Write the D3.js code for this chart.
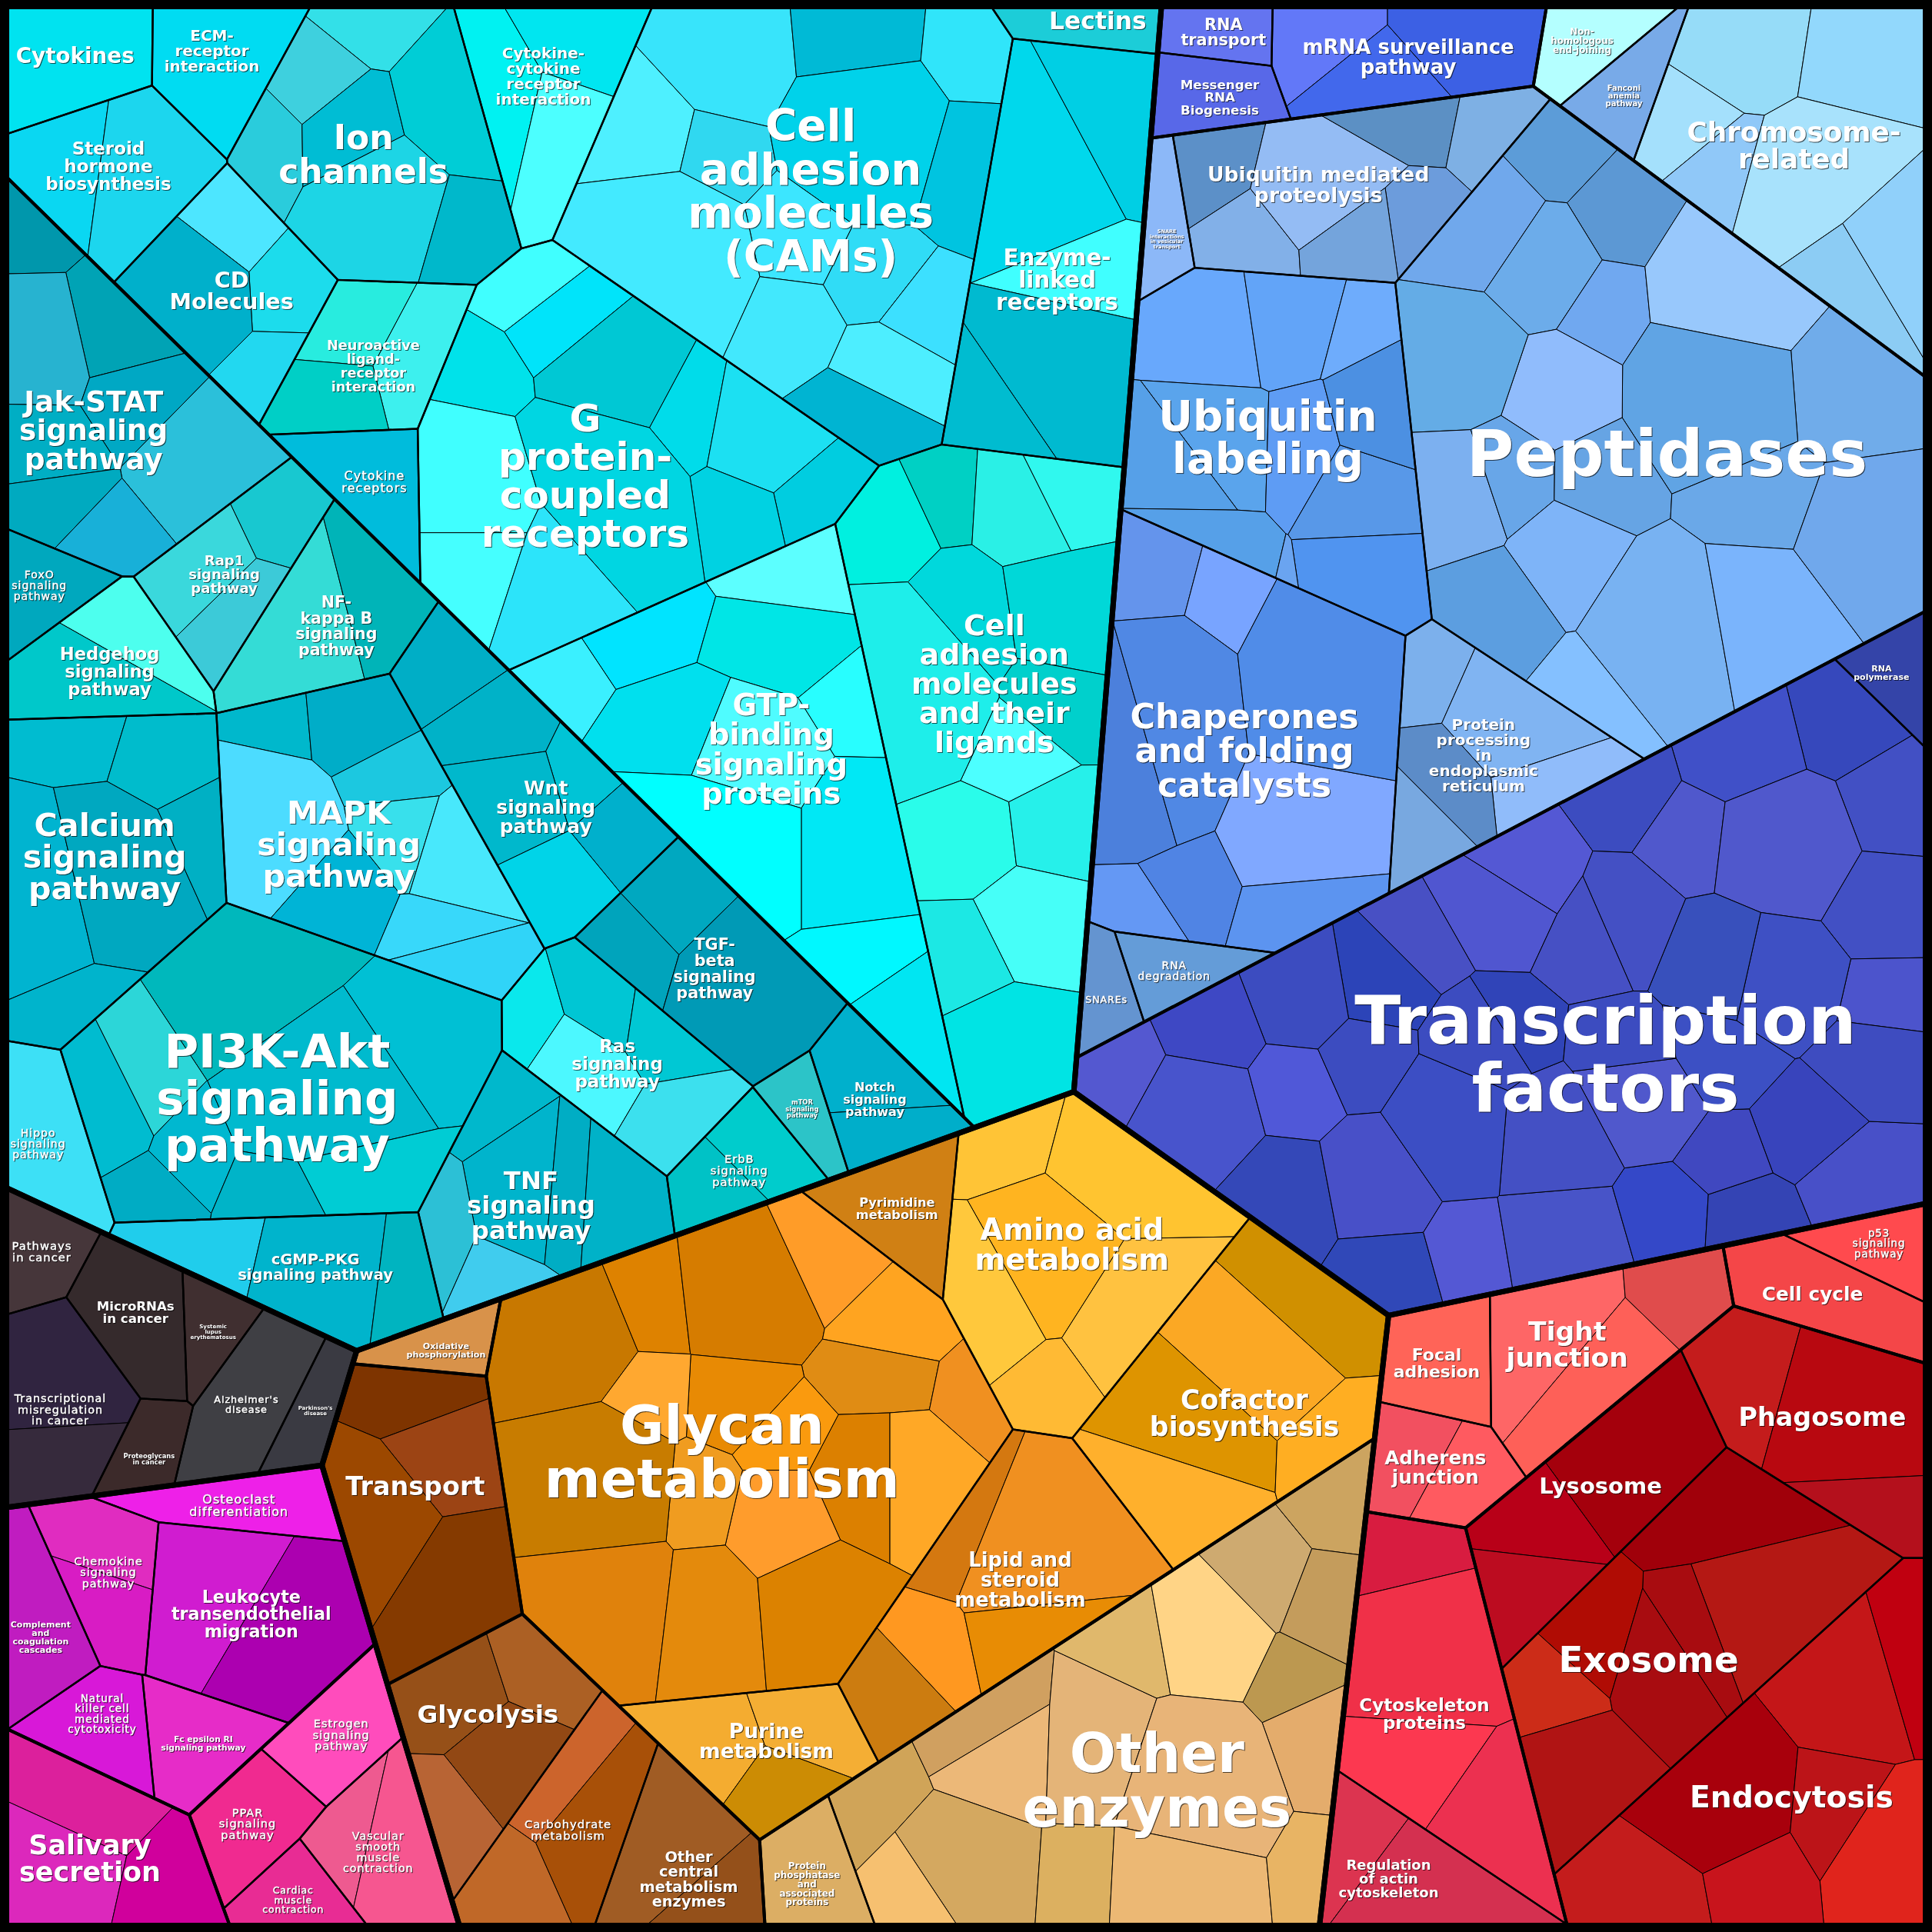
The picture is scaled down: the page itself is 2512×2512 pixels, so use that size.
<html>
  <head>
    <style>
      body { margin: 0; background: #000; }
      text { font-family: 'DejaVu Sans'; font-weight: bold; fill: #fff; text-anchor: middle; }
      text.thin { font-weight: normal; letter-spacing: 0.07em; stroke: #fff; stroke-width: 0.45px; }
    </style>
  </head>
  <body>
    <script src="https://d3js.org/d3.v7.min.js"></script>
    <svg id="map" width="2512" height="2512"></svg>
    <script>
      const topSites = '511,672,147789 329,1063,-78644 357,1273,-82996 692,1173,86597 1125,1222,-89840 1019,713,23705';

      // one string per top level group
      const midSites = [
        '586,364,7423 258,698,-7155',
        '120,1112,0',
        '159,1367,4378 102,1488,-3964 228,1442,-374',
        '427,1157,-32028 419,1243,-18193 497,1392,-10606 676,1204,52069 787,1374,8152',
        '1450,1102,-30339 1243,1139,-780 1207,1359,617 1387,1313,30503',
        '1116,85,-41685 1369,127,-39619 1160,409,63676 1345,761,11453',
      ];

      // one string per mid level group, read in order
      const pathwaySites = [
        '131,81,-19647 225,82,-9350 155,153,-11855 331,140,8407 236,230,-951 326,279,2956 329,355,-1824 438,110,4739 618,187,26289 787,73,-36593 772,214,-3688 504,352,25265 595,555,13405 733,525,2694',
        '92,343,4241 39,471,-7773 89,539,-6218 188,470,-5306 261,516,-4091 420,624,8671 576,785,409 510,864,384 432,966,3247 593,944,-6005 648,899,-8490 698,883,-8121 301,691,12976 94,702,6515 239,866,18295 57,923,-12888 244,1011,4184',
        '61,1062,-2009 104,1085,1411 74,1107,1199 102,1121,-850 132,1084,-382 223,1150,217 243,1160,347',
        '169,1208,586 59,1329,-3710 137,1294,1712 160,1296,2860 113,1408,-621 123,1407,-665',
        '80,1500,0',
        '233,1445,-399 225,1454,-130 290,1508,510 281,1515,19',
        '358,1092,0',
        '343,1226,0',
        '387,1418,717 467,1475,-688 556,1506,-29',
        '706,1273,-17199 695,1163,15036 747,1095,324 810,1101,2523 882,1159,-5281 791,1229,4597',
        '711,1500,-21204 885,1437,21204',
        '1512,1007,-177 1489,1055,177',
        '1289,1098,3944 1180,1099,-1479 1160,1188,-2466',
        '1180,1415,2360 1131,1488,-2360',
        '1454,1179,-11277 1303,1250,1269 1368,1316,7031 1455,1412,2977',
        '1004,35,-1867 999,77,-1347 1109,37,3214',
        '1297,43,-4971 1317,67,-4814 1462,119,9786',
        '1084,162,-15189 939,186,-29414 1066,401,11702 1333,372,38415 1187,594,1150 986,581,21077 906,788,-15196 961,770,-12838',
        '1473,627,-31637 1343,760,31637',
      ];

      // one row per mid level group, one string per pathway
      const leafSites = [
        ['61,48,0', '177,51,0', '50,134,-198 117,143,198', '299,25,-1993 257,77,-570 220,114,-488 286,113,525 373,92,1036 311,162,1771 363,177,-281', '186,192,221 225,227,-301 156,231,1367 223,298,-1287', '284,270,302 329,294,-75 281,306,-227', '299,389,0', '399,87,482 476,42,-453 456,100,-29', '573,133,-2631 624,86,-1023 690,80,131 752,86,-2713 611,142,397 696,126,4422 695,204,1752 655,184,2681 749,141,887 581,200,1440 649,231,657 718,222,-300 700,254,-1641 685,284,-4022', '882,22,0', '836,131,2392 903,95,1085 875,226,-2060 859,298,47 808,333,-1464', '452,233,-4572 479,268,-2856 402,317,-5401 511,307,-385 378,437,5291 378,444,5405 567,337,-565 615,346,430 643,379,-1983 598,389,-1642 485,405,2870 424,459,3518', '627,531,-440 587,559,893 557,579,-3056 622,569,4145 604,610,6684 609,612,7064 641,592,4179 640,632,4104 603,632,6239 649,704,-8419 705,786,-21392', '730,443,-742 781,419,-901 848,423,2370 850,422,2338 791,503,2228 864,492,3397 854,545,1050 817,590,-633 735,552,4712 780,674,-2302 855,665,-2823 837,748,-2943 783,775,-3413 820,853,-2339'],
        ['36,201,-2883 100,273,1266 38,287,984 110,312,814 170,371,1414 37,359,191 42,395,-619 88,439,-1195', '38,478,0', '104,513,-303 78,559,287', '223,423,-1079 154,456,727 200,503,353', '248,506,534 295,494,-534', '364,539,-287 403,596,180 470,629,-507 509,673,-379 410,647,860 447,724,133', '549,734,-963 511,770,-1005 614,800,1968', '438,839,-390 497,822,477 530,827,550 472,862,667 543,904,-1341', '400,917,-1706 435,969,1262 446,970,1117 506,974,1209 351,985,-629 416,1014,-1252', '616,928,-19 577,967,19', '653,902,0', '713,868,397 716,917,-397', '241,593,-3262 309,587,41 335,637,943 221,687,1975 263,724,913 338,664,1071 364,672,1133 343,758,-1534 352,792,-1237', '64,601,-2907 133,622,-2245 35,731,3700 78,721,3094 164,682,-1555 65,802,-86', '224,835,2059 141,890,-1916 125,898,-2626 145,933,-3315 165,913,-1504 258,871,3324 252,875,4192 240,945,-414 265,932,234', '41,924,0', '166,1011,-271 262,1033,974 326,1041,-703'],
        ['35,1017,0', '110,1070,0', '47,1115,548 51,1185,-548', '119,1175,0', '171,1082,0', '201,1137,0', '254,1146,0'],
        ['199,1221,0', '33,1319,0', '96,1254,-165 78,1308,165', '168,1291,-138 237,1332,138', '80,1402,0', '160,1414,0'],
        ['67,1464,406 46,1510,581 136,1530,-987'],
        ['275,1406,0', '205,1479,0', '281,1492,-237 326,1502,237', '238,1537,0'],
        ['358,1092,0'],
        ['339,1135,-1286 358,1186,-522 297,1235,1342 374,1284,466'],
        ['368,1381,-18 442,1357,-589 410,1432,599 365,1468,8', '458,1450,149 494,1480,1268 411,1517,-1462', '546,1494,498 584,1537,-498'],
        ['579,1418,-16 656,1391,133 632,1456,-117', '460,1086,-432 533,1056,-1999 613,1047,884 669,1021,23 714,1067,-1132 704,1120,-1251 777,1135,-3761 711,1210,1850 707,1210,1955 642,1176,-330 642,1239,1474 604,1141,-971 529,1137,-2165 572,1223,-355 486,1215,2147 494,1290,1570 579,1300,617 667,1293,1844', '732,978,0', '816,930,-2684 911,955,-263 850,1029,1717 811,1051,1077 913,1069,1263 858,1109,-1110', '1063,1054,-311 1016,1106,623 965,1162,1355 954,1196,818 1071,1166,-2611', '784,1242,-64 846,1267,2470 756,1335,-1965 851,1315,1398 721,1368,-1839'],
        ['658,1520,0', '717,1456,1849 797,1418,2752 800,1423,2805 771,1505,3142 768,1507,2960 891,1426,1881 932,1338,-1011 972,1331,-271 1019,1285,-2426 1086,1230,-4131 1076,1307,-2669 1047,1367,-2501 1067,1411,-1998 960,1449,2760 888,1513,-172 946,1516,1473 1057,1506,-4441'],
        ['1522,1011,0', '1479,1051,0'],
        ['1246,1073,1652 1303,1121,796 1358,1064,-2447', '1169,1104,0', '1144,1178,-21 1190,1203,21'],
        ['1139,1263,-948 1157,1339,1576 1151,1431,-643 1216,1476,15', '1105,1492,-920 1160,1533,920'],
        ['1417,1119,-1101 1508,1144,1832 1512,1224,-749', '1332,1178,2044 1247,1240,-1200 1241,1292,-861', '1385,1230,-79 1408,1325,2598 1400,1328,2435 1303,1324,-1425 1374,1345,1250 1265,1366,-2530 1285,1434,-2231', '1504,1366,355 1535,1357,-577 1389,1459,2271 1486,1468,-1133 1537,1501,-405 1343,1525,-56 1414,1512,-471'],
        ['990,28,0', '985,77,0', '1074,26,-628 1120,83,618 1184,26,11'],
        ['1289,36,0', '1321,71,0', '1411,40,-344 1496,53,-2102 1374,97,-1301 1402,131,-1348 1472,150,1143 1521,221,1842 1531,215,2012'],
        ['993,133,-2473 1034,196,-1133 1086,155,1732 1125,87,603 1200,102,-2292 1119,190,1703 1112,191,1901', '947,184,0', '992,270,500 1033,264,187 1086,278,-2113 986,365,1422 982,368,1301 1058,367,493 1108,396,1224 1123,350,979 1110,438,-294 981,439,-140 1028,450,-3574', '1259,133,-4884 1315,186,-3727 1198,191,-1832 1250,226,-1803 1303,261,-2050 1416,250,2613 1494,318,2760 1401,325,4405 1269,324,-430 1183,295,-160 1188,402,-286 1227,389,-422 1301,390,-68 1431,397,2208 1276,448,80 1217,490,-763 1357,500,2231 1425,488,1935 1509,425,2524 1292,552,-2280', '1166,551,-1737 1238,583,1577 1254,631,404 1176,639,-307 1145,670,64', '920,498,-2106 981,514,-3216 920,590,5250 927,588,5196 1073,652,2304 1088,570,4448 924,733,-6003 971,702,-4771 1080,733,-1119', '896,804,0', '954,786,0'],
        ['1536,545,0', '1426,665,-9046 1451,707,-7218 1381,676,-2374 1320,694,1230 1359,721,3248 1401,726,2284 1447,753,-3105 1448,810,-2847 1391,797,5919 1373,793,7176 1317,770,7358 1252,744,4966 1247,752,5211 1301,777,7453 1189,785,1565 1166,808,713 1119,816,-4027 1062,838,-12098 1004,864,-22446 1053,891,-13219 1113,875,-5289 1106,940,-8256 1158,855,99 1164,929,-1000 1168,980,-5571 1222,965,-443 1270,957,2672 1329,940,2096 1379,943,-1320 1440,918,-5526 1411,884,406 1443,849,-2309 1365,901,3068 1319,868,8313 1265,897,7365 1216,893,5644 1233,852,6699 1244,845,6915 1317,852,8450 1363,840,6888'],
      ];

      // same layout as leafSites
      const leafColors = [
        ['#00e3f0', '#00dcf2', '#0ad7f2 #1cd6ee', '#33e0e8 #3ed0de #2accdc #00bdd4 #00cdd6 #1dd5e5 #00b8cb', '#4de6ff #1cdcec #00b0cb #22d8f0', '#28ecdf #3df0ee #00cfc6', '#00bcdc', '#00f2f2 #00e6f0 #4cffff', '#4ef0ff #38e4fb #00bad6 #30e5fa #30d8f0 #00d2ea #30dcf6 #3ce6ff #00c4e0 #43eaff #42e8fd #3ce0ff #4deeff #00b4d2', '#1ccdd8', '#00d8ec #00cfe4 #40ffff #00bad0 #00bcd0', '#40ffff #00e4fa #00e2ea #00c8d4 #40ffff #45ffff #00dcea #1ce0f2 #00cde0 #00d2e2 #00d6e2 #2ce4fa', '#5cffff #00e4ff #3af0ff #00e6e6 #00e0ee #4ffcff #28feff #00e8f5 #00ffff #00f8ff #00e6f2', '#00f0e0 #00d0c4 #2af0e6 #30f8ee #00d8dc #00d8d8 #00d0cc #4cffff #1eeeea #2afcea #26f0ea #46fff8 #1ce8e4 #00e4e4'],
        ['#0097ac #00a3b5 #27b3d0 #00a8c4 #2bc0da #00aec4 #00aac0 #18b0d8', '#00a8be', '#4dffee #00c8ca', '#18c8d0 #3ad8dc #3ccad8', '#34dcd6 #00b4b8', '#00aec6 #00b2c8 #00c4d6 #00b0cc #00b8cc #00d4e8', '#00a8c0 #00a4bc #009ab6', '#0ae8ec #00c6d4 #00c8d4 #4cf8ff #3ce0ee', '#00b8cc #00b4cc #00adc4 #00b2c8 #2cc0d6 #40ccee', '#00cccc #00c2c6', '#2cc4c8', '#00b0cc #00aeca', '#00b8cc #00adc8 #1cc8e0 #4cdcff #00b4d6 #38e0ec #48e8fc #38d8fa #30d4f8', '#00bcd0 #00bccc #00b4d0 #00a8c0 #00b0c4 #00b4cc', '#00b8bc #2cd6d8 #00bcd0 #00acc4 #00b8d0 #00c0d4 #00bace #00b4c8 #00ccd4', '#3de0f6', '#20cdec #00b4cc #00b4c0'],
        ['#46363a', '#352a2c', '#302440 #362a3c', '#3c2a2a', '#402f30', '#3f3f44', '#3a3a42'],
        ['#ee20e8', '#c01cc0', '#e02cc0 #d81cc4', '#d01cd0 #ac00b0', '#d818d8', '#e62cc8'],
        ['#dc209c #dc28bc #d0009c'],
        ['#ff4cbc', '#f02a90', '#ee5a90 #f65690', '#e82c94'],
        ['#d8924a'],
        ['#7e3400 #9c4414 #9c4800 #853a00'],
        ['#965018 #ac6024 #924814 #b86434', '#cc642c #a85008 #c06828', '#a05c24 #94501a'],
        ['#f4ac30 #f4ae34 #cc8c04', '#c87800 #de8200 #d67c00 #ff9c28 #ffa420 #e08c14 #f09020 #ffa826 #dc8000 #fa9a0e #ff9c2c #e88a04 #ffa830 #f09c20 #c87c00 #e0820c #e48a0c #dc8200', '#d08014', '#ffc436 #ffc430 #ffb420 #ffc83c #ffc240 #ffba34', '#d09000 #fba824 #de9400 #ffb02c #ffae22', '#d47810 #f09020 #ff9820 #e88c04 #cc7c10'],
        ['#dcae64', '#d0a458 #d0a060 #ecb878 #d4a860 #f6c070 #e4b478 #e0b86c #ffd486 #ceaa70 #cca460 #c49c5c #bc9850 #e4ac6c #e8b478 #dcb060 #ecb874 #e8b464'],
        ['#ff4a4e', '#f44648'],
        ['#fe6666 #fe6058 #e04c4c', '#ff6458', '#f25060 #ff5a60'],
        ['#d81c40 #f03048 #fc3850 #ec3050', '#dc3450 #d43050'],
        ['#c41c1c #b80810 #b4101c', '#a4000c #b80018 #bc0c20', '#a0000a #b41814 #a80c10 #b00c04 #a80c10 #cc2c18 #b01414', '#c41618 #c00010 #a8000c #bc1418 #e0241c #c41c1c #c8141c'],
        ['#6474f0', '#5868e8', '#6278f8 #4268ec #3c60e4'],
        ['#b4ffff', '#78aae8', '#96dcf8 #92d8fc #a4e0fc #90c8f8 #a8e2fc #8cccf4 #90d0fa'],
        ['#5c90c8 #82b0e8 #94bcf4 #5c90c4 #7eb0e4 #6c9cdc #74a4dc', '#8cb8f8', '#68a8fc #62a4f8 #6eacfc #5aa4ec #56a0e8 #5e9cf4 #5898e8 #4c90e2 #5094f0 #56a0e8 #6aa4f0', '#5c9cd8 #5c98d4 #70a8ec #6cacea #70a8f0 #98c8fc #70acea #60a4e4 #90bcfc #64ace6 #7cb0f0 #68a6e8 #66a4e4 #6aa8e8 #7eb4f8 #5c9ee0 #78b2f2 #7ab4fc #70a8ec #84c0ff', '#7cb0ec #80b4f2 #90bcfa #5c8cc8 #78a8e0', '#6494ec #78a4ff #4c80dc #5088e4 #80a8ff #508ce8 #6498f4 #5084e4 #5c94f0', '#6494d0', '#649cd8'],
        ['#3444a8', '#3648bc #4250c4 #4050c8 #3c4cc0 #5058cc #5058cc #4250c4 #4c54cc #3e50c4 #3850bc #4450c4 #5458d4 #5056d0 #4650c4 #4850c4 #2c44b8 #3c4cc0 #3e48c4 #5458d0 #4854cc #5058d8 #3448b8 #3c4cc0 #4850c8 #3048b8 #5458d4 #4854c8 #3448c8 #3444b4 #4850c8 #3844bc #3e4cc0 #4048c0 #5058cc #4450c4 #3c4ec4 #3c4cc0 #3044b8 #3c4cc0 #3c50c4'],
      ];

      const labelTexts = [
        'Cytokines', 'ECM-\nreceptor\ninteraction', 'Steroid\nhormone\nbiosynthesis', 'Ion\nchannels', 'CD\nMolecules', 'Neuroactive\nligand-\nreceptor\ninteraction', 'Cytokine\nreceptors', 'Cytokine-\ncytokine\nreceptor\ninteraction', 'Cell\nadhesion\nmolecules\n(CAMs)', 'Lectins', 'Enzyme-\nlinked\nreceptors', 'G\nprotein-\ncoupled\nreceptors', 'GTP-\nbinding\nsignaling\nproteins', 'Cell\nadhesion\nmolecules\nand their\nligands',
        'Jak-STAT\nsignaling\npathway', 'FoxO\nsignaling\npathway', 'Hedgehog\nsignaling\npathway', 'Rap1\nsignaling\npathway', 'NF-\nkappa B\nsignaling\npathway', 'Wnt\nsignaling\npathway', 'TGF-\nbeta\nsignaling\npathway', 'Ras\nsignaling\npathway', 'TNF\nsignaling\npathway', 'ErbB\nsignaling\npathway', 'mTOR\nsignaling\npathway', 'Notch\nsignaling\npathway', 'MAPK\nsignaling\npathway', 'Calcium\nsignaling\npathway', 'PI3K-Akt\nsignaling\npathway', 'Hippo\nsignaling\npathway', 'cGMP-PKG\nsignaling pathway',
        'Pathways\nin cancer', 'MicroRNAs\nin cancer', 'Transcriptional\nmisregulation\nin cancer', 'Proteoglycans\nin cancer', 'Systemic\nlupus\nerythematosus', "Alzheimer's\ndisease", "Parkinson's\ndisease",
        'Osteoclast\ndifferentiation', 'Complement\nand\ncoagulation\ncascades', 'Chemokine\nsignaling\npathway', 'Leukocyte\ntransendothelial\nmigration', 'Natural\nkiller cell\nmediated\ncytotoxicity', 'Fc epsilon RI\nsignaling pathway', 'Salivary\nsecretion', 'Estrogen\nsignaling\npathway', 'PPAR\nsignaling\npathway', 'Vascular\nsmooth\nmuscle\ncontraction', 'Cardiac\nmuscle\ncontraction',
        'Oxidative\nphosphorylation', 'Transport', 'Glycolysis', 'Carbohydrate\nmetabolism', 'Other\ncentral\nmetabolism\nenzymes', 'Purine\nmetabolism', 'Glycan\nmetabolism', 'Pyrimidine\nmetabolism', 'Amino acid\nmetabolism', 'Cofactor\nbiosynthesis', 'Lipid and\nsteroid\nmetabolism', 'Protein\nphosphatase\nand\nassociated\nproteins', 'Other\nenzymes',
        'p53\nsignaling\npathway', 'Cell cycle', 'Tight\njunction', 'Focal\nadhesion', 'Adherens\njunction', 'Cytoskeleton\nproteins', 'Regulation\nof actin\ncytoskeleton', 'Phagosome', 'Lysosome', 'Exosome', 'Endocytosis',
        'RNA\ntransport', 'Messenger\nRNA\nBiogenesis', 'mRNA surveillance\npathway', 'Non-\nhomologous\nend-joining', 'Fanconi\nanemia\npathway', 'Chromosome-\nrelated', 'Ubiquitin mediated\nproteolysis', 'SNARE\ninteractions\nin vesicular\ntransport', 'Ubiquitin\nlabeling', 'Peptidases', 'Protein\nprocessing\nin\nendoplasmic\nreticulum', 'Chaperones\nand folding\ncatalysts', 'SNAREs', 'RNA\ndegradation', 'RNA\npolymerase', 'Transcription\nfactors',
      ];

      // centre x, centre y in map units, font size in px
      const labelPlaces = [
        [61, 45, 27.8], [172, 41, 20], [88, 135, 23], [295, 125, 44], [188, 236, 28.7], [303, 297, 17.7], [304, 391, 15.9], [441, 62, 20], [658, 155, 56.4], [891, 17, 31.4], [858, 227, 29.4], [475, 386, 50], [626, 608, 38.5], [807, 555, 38],
        [76, 349, 37.5], [32, 475, 14], [89, 545, 22.6], [182, 466, 18], [273, 508, 20.6], [443, 655, 25], [580, 786, 20.8], [501, 863, 23], [431, 978, 32.4], [600, 950, 14.6], [651, 900, 8.4], [710, 892, 16], [275, 685, 41.3], [85, 695, 41.3], [225, 891, 61], [31, 928, 14], [256, 1028, 19.6],
        [34, 1016, 14.7], [110, 1065, 16.6], [49, 1144, 14.3], [121, 1184, 8.3], [173, 1081, 7], [200, 1140, 12.8], [256, 1145, 6.9],
        [194, 1222, 15.9], [33, 1329, 11], [88, 1276, 14.3], [204, 1310, 22.3], [83, 1391, 13.5], [165, 1415, 10.7], [73, 1508, 35], [277, 1408, 14.4], [201, 1480, 14.5], [307, 1503, 14.2], [238, 1542, 12.4],
        [362, 1096, 11.2], [337, 1206, 33.4], [396, 1391, 32.7], [461, 1485, 14.7], [559, 1525, 19.4], [622, 1413, 26.5], [586, 1178, 70], [728, 981, 16.2], [870, 1010, 38.3], [1010, 1147, 34.7], [828, 1282, 25.8], [655, 1529, 11.9], [939, 1445, 70.8],
        [1525, 1009, 13.4], [1471, 1050, 24.8], [1272, 1091, 34.6], [1166, 1106, 22], [1165, 1191, 24.7], [1156, 1391, 23], [1127, 1525, 18], [1479, 1150, 33.4], [1299, 1206, 29], [1338, 1347, 46.7], [1454, 1458, 39.3],
        [993, 26, 20.8], [990, 79, 16.7], [1143, 46, 26], [1284, 33, 11.9], [1318, 78, 10], [1456, 118, 35.8], [1070, 150, 26.6], [947, 194, 6.6], [1029, 355, 55], [1353, 368, 84], [1204, 613, 20], [1010, 609, 44.5], [898, 811, 12.6], [953, 788, 13.8], [1527, 546, 11], [1303, 855, 88],
      ];

      const frame = [[5.3, 5.3], [1562.7, 5.3], [1562.7, 1562.7], [5.3, 1562.7]];

      const x = d3.scaleLinear().domain([0, 1568]).range([0, 2512]);
      const y = d3.scaleLinear().domain([0, 1568]).range([0, 2512]);
      const outline = d3.line().x((d) => x(d[0])).y((d) => y(d[1])).curve(d3.curveLinearClosed);

      const parseSites = (s) => s.split(' ').map((p) => p.split(',').map(Number));

      // keep the part of a convex polygon where a*x + b*y + c <= 0
      const clipPolygon = (poly, a, b, c) => {
        const out = [];
        poly.forEach((p, i) => {
          const q = poly[(i + 1) % poly.length];
          const u = a * p[0] + b * p[1] + c;
          const v = a * q[0] + b * q[1] + c;
          if (u <= 0) out.push(p);
          if ((u < 0 && v > 0) || (u > 0 && v < 0)) {
            const t = u / (u - v);
            out.push([p[0] + t * (q[0] - p[0]), p[1] + t * (q[1] - p[1])]);
          }
        });
        return out;
      };

      // power diagram of the sites inside the parent polygon
      const powerCells = (parent, sites) =>
        sites.map((t, i) => {
          let cell = parent;
          sites.forEach((s, j) => {
            if (j === i || cell.length < 3) return;
            cell = clipPolygon(
              cell,
              2 * (s[0] - t[0]),
              2 * (s[1] - t[1]),
              t[0] * t[0] + t[1] * t[1] - t[2] - s[0] * s[0] - s[1] * s[1] + s[2]
            );
          });
          return cell;
        });

      const topCells = powerCells(frame, parseSites(topSites));
      const midCells = [];
      midSites.forEach((s, t) => powerCells(topCells[t], parseSites(s)).forEach((c) => midCells.push(c)));

      const pathwayCells = [];
      const leaves = [];
      midCells.forEach((mid, m) => {
        powerCells(mid, parseSites(pathwaySites[m])).forEach((cell, p) => {
          pathwayCells.push(cell);
          const colors = leafColors[m][p].split(' ');
          powerCells(cell, parseSites(leafSites[m][p])).forEach((c, l) => leaves.push({ cell: c, color: colors[l] }));
        });
      });

      const svg = d3.select('#map');
      svg.append('rect').attr('width', 2512).attr('height', 2512).attr('fill', '#000');

      const drawBorders = (cells, width) =>
        svg
          .append('g')
          .selectAll('path')
          .data(cells.filter((c) => c.length > 2))
          .enter()
          .append('path')
          .attr('d', outline)
          .attr('fill', 'none')
          .attr('stroke', '#000')
          .attr('stroke-width', width);

      svg
        .append('g')
        .selectAll('path')
        .data(leaves.filter((d) => d.cell.length > 2))
        .enter()
        .append('path')
        .attr('d', (d) => outline(d.cell))
        .attr('fill', (d) => d.color)
        .attr('stroke', '#000')
        .attr('stroke-width', 1);

      drawBorders(pathwayCells, 2.4);
      drawBorders(midCells, 4);
      drawBorders(topCells, 7);

      const labels = svg.append('g').style('filter', 'drop-shadow(1.5px 1.5px 0 rgba(0,0,0,.65))');
      labelTexts.forEach((label, i) => {
        const [cx, cy, size] = labelPlaces[i];
        const rows = label.split('\n');
        // the mid sized labels look lighter in the picture
        const text = labels.append('text').attr('font-size', size).classed('thin', size >= 12 && size < 16);
        rows.forEach((row, r) => {
          text
            .append('tspan')
            .attr('x', x(cx))
            .attr('y', y(cy) + (r - (rows.length - 1) / 2) * size + 0.35 * size)
            .text(row);
        });
      });
    </script>
  </body>
</html>
